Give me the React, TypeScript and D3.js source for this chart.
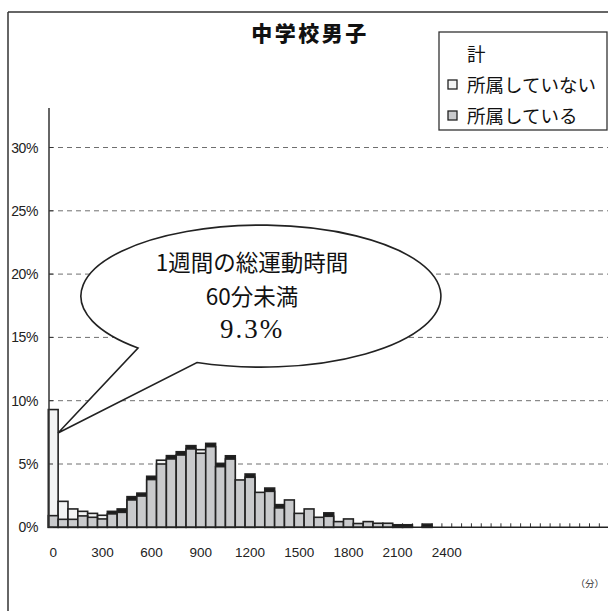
import React from "react";
import * as d3 from "d3";

// bins of weekly exercise time (minutes)
const categories = [
  0, 60, 120, 180, 240, 300, 360, 420, 480, 540, 600, 660, 720, 780, 840, 900, 960, 1020, 1080,
  1140, 1200, 1260, 1320, 1380, 1440, 1500, 1560, 1620, 1680, 1740, 1800, 1860, 1920, 1980,
  2040, 2100, 2160, 2220, 2280, 2340, 2400, 2460, 2520, 2580, 2640, 2700, 2760, 2820, 2880,
  2940, 3000, 3060, 3120, 3180, 3240, 3300, 3360,
];
const tickLabels = ["0", "300", "600", "900", "1200", "1500", "1800", "2100", "2400"];
const yTicks = [0, 5, 10, 15, 20, 25, 30];

// series (%)
const totalSeries = [
  0, 0, 0, 0, 0, 0, 1.26, 1.45, 2.42, 2.7, 4.03, 0, 5.66, 5.97, 6.45, 0, 6.63, 5.05, 5.65, 0,
  4.21, 0, 3.1, 1.79, 0, 0, 0, 0, 1.14, 0, 0, 0, 0, 0, 0, 0.2, 0.2, 0, 0.25, 0, 0, 0, 0, 0, 0,
  0, 0, 0, 0, 0, 0, 0, 0, 0, 0, 0, 0,
];
const notMemberSeries = [
  9.3, 2.05, 1.45, 1.26, 1.1, 0.95, 0, 0, 0, 0, 0, 5.3, 0, 0, 0, 6.13, 0, 0, 0, 0, 0, 0, 0, 0,
  0, 0, 0, 0, 0, 0, 0, 0, 0, 0, 0, 0, 0, 0, 0, 0, 0, 0, 0, 0, 0, 0, 0, 0, 0, 0, 0, 0, 0, 0, 0,
  0, 0,
];
const memberSeries = [
  0.92, 0.63, 0.63, 0.9, 0.79, 0.66, 1.06, 1.18, 2.16, 2.47, 3.77, 5.0, 5.4, 5.71, 6.19, 5.85,
  6.37, 4.79, 5.39, 3.74, 3.95, 2.76, 2.84, 1.53, 2.16, 1.1, 1.45, 0.79, 0.87, 0.45, 0.66, 0.3,
  0.45, 0.32, 0.32, 0.05, 0.05, 0, 0.05, 0, 0, 0, 0, 0, 0, 0, 0, 0, 0, 0, 0, 0, 0, 0, 0, 0, 0,
];
const legendLabels = ["計", "所属していない", "所属している"];
const title = "中学校男子";
const calloutLines = ["1週間の総運動時間", "60分未満", "9.3%"];

const JP = "'Noto Sans CJK JP', 'Noto Sans', sans-serif";
const SANS = "'Liberation Sans', Arial, sans-serif";

export default function App() {
  const x0 = 48.3;
  const bw = 9.84;
  const x = d3
    .scaleBand<number>()
    .domain(categories)
    .range([x0, x0 + categories.length * bw])
    .padding(0);
  const y = d3.scaleLinear().domain([0, 30]).range([527.3, 147.5]);
  const axisX = 49;
  const baseY = y(0);

  const series = [
    { data: totalSeries, fill: "#1c1c1c" },
    { data: notMemberSeries, fill: "#f3f4f4" },
    { data: memberSeries, fill: "#c9cacc" },
  ];

  // callout geometry
  const cx = 252, cy = 293, rx = 180, ry = 71;
  const A = [197, 362.5];
  const B = [138, 348];
  const tip = [58, 433];
  const calloutPath = `M${A[0]},${A[1]} A${rx},${ry} 0 1 0 ${B[0]},${B[1]} L${tip[0]},${tip[1]} Z`;

  return (
    <svg
      width={608}
      height={611}
      style={{ position: "absolute", left: 0, top: 0, background: "#fff" }}
    >
      {/* outer frame */}
      <line x1={8} y1={12} x2={608} y2={12} stroke="#333" strokeWidth={1.5} />
      <line x1={8} y1={12} x2={8} y2={611} stroke="#333" strokeWidth={1.5} />

      {/* gridlines */}
      {yTicks.filter((t) => t > 0).map((t) => (
        <line
          key={"g" + t}
          x1={axisX}
          x2={608}
          y1={y(t)}
          y2={y(t)}
          stroke="#6f6f6f"
          strokeWidth={1}
          strokeDasharray="5,4"
        />
      ))}

      {/* x ticks (inside) */}
      {categories.map((c, i) => (
        <line
          key={"xt" + i}
          x1={(x(c) as number) + bw}
          x2={(x(c) as number) + bw}
          y1={baseY}
          y2={baseY - 4}
          stroke="#333"
          strokeWidth={1}
        />
      ))}

      {/* bars */}
      {series.map((s, si) => (
        <g key={"s" + si}>
          {categories.map((c, i) =>
            s.data[i] > 0 ? (
              <rect
                key={i}
                x={x(c) as number}
                width={x.bandwidth()}
                y={y(s.data[i])}
                height={baseY - y(s.data[i])}
                fill={s.fill}
                stroke="#222"
                strokeWidth={1.6}
              />
            ) : null
          )}
        </g>
      ))}

      {/* axes */}
      <line x1={axisX} y1={108} x2={axisX} y2={baseY} stroke="#333" strokeWidth={1.5} />
      <line x1={axisX} y1={baseY} x2={608} y2={baseY} stroke="#222" strokeWidth={1.5} />
      {yTicks.map((t) => (
        <g key={"yt" + t}>
          <line x1={axisX} x2={axisX + 4} y1={y(t)} y2={y(t)} stroke="#333" strokeWidth={1} />
          <text
            x={38}
            y={y(t) + 5}
            textAnchor="end"
            fontFamily={SANS}
            fontSize={14}
            fill="#222"
            letterSpacing={-0.4}
          >
            {t + "%"}
          </text>
        </g>
      ))}
      {tickLabels.map((l, k) => {
        const c = categories[k * 5];
        return (
          <text
            key={"xl" + k}
            x={(x(c) as number) + bw / 2}
            y={557}
            textAnchor="middle"
            fontFamily={SANS}
            fontSize={13.5}
            fill="#222"
          >
            {l}
          </text>
        );
      })}
      <text x={604} y={587} textAnchor="end" fontFamily={JP} fontSize={9.5} fill="#333">
        （分）
      </text>

      {/* title */}
      <text
        x={310}
        y={41}
        textAnchor="middle"
        fontFamily={JP}
        fontWeight={900}
        fontSize={21}
        letterSpacing={2.5}
        fill="#111"
      >
        {title}
      </text>

      {/* legend */}
      <rect x={439} y={32} width={168} height={98} fill="#fff" stroke="#333" strokeWidth={1.3} />
      <text x={467} y={61} fontFamily={JP} fontSize={18.5} fill="#111">
        {legendLabels[0]}
      </text>
      <rect x={448} y={80} width={9} height={9} fill="#f3f4f4" stroke="#222" strokeWidth={1.3} />
      <text x={467} y={92} fontFamily={JP} fontSize={18.5} fill="#111">
        {legendLabels[1]}
      </text>
      <rect x={448} y={111} width={9} height={9} fill="#c9cacc" stroke="#222" strokeWidth={1.3} />
      <text x={467} y={123} fontFamily={JP} fontSize={18.5} fill="#111">
        {legendLabels[2]}
      </text>

      {/* callout */}
      <path d={calloutPath} fill="#fff" stroke="#222" strokeWidth={1.6} />
      <text x={252} y={271} textAnchor="middle" fontFamily={JP} fontSize={22.5} fill="#111">
        {calloutLines[0]}
      </text>
      <text x={252} y={305} textAnchor="middle" fontFamily={JP} fontSize={22.5} fill="#111">
        {calloutLines[1]}
      </text>
      <text
        x={252}
        y={338}
        textAnchor="middle"
        fontFamily="'Liberation Serif', 'DejaVu Serif', serif"
        fontSize={27}
        letterSpacing={2}
        fill="#111"
      >
        {calloutLines[2]}
      </text>
    </svg>
  );
}
